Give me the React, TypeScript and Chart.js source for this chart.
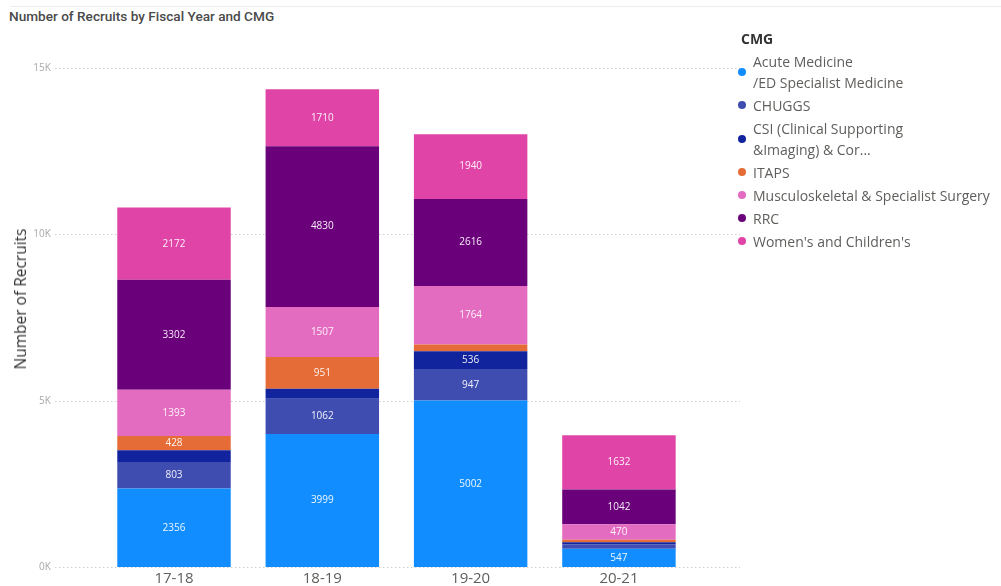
import React, { useEffect, useRef } from 'react';
import { Chart, registerables } from 'chart.js';
Chart.register(...registerables);

const categories = ['17-18', '18-19', '19-20', '20-21'];
const seriesNames = [
  'Acute Medicine /ED Specialist Medicine',
  'CHUGGS',
  'CSI (Clinical Supporting &Imaging) & Cor...',
  'ITAPS',
  'Musculoskeletal & Specialist Surgery',
  'RRC',
  "Women's and Children's",
];
const legendLines = [
  ['Acute Medicine', '/ED Specialist Medicine'],
  ['CHUGGS'],
  ['CSI (Clinical Supporting', '&Imaging) & Cor...'],
  ['ITAPS'],
  ['Musculoskeletal & Specialist Surgery'],
  ['RRC'],
  ["Women's and Children's"],
];
const acute = [2356, 3999, 5002, 547];
const chuggs = [803, 1062, 947, 140];
const csi = [350, 300, 536, 60];
const itaps = [428, 951, 200, 70];
const musc = [1393, 1507, 1764, 470];
const rrc = [3302, 4830, 2616, 1042];
const womens = [2172, 1710, 1940, 1632];
const seriesValues = [acute, chuggs, csi, itaps, musc, rrc, womens];
const colors = ['#118DFF', '#3F4CB0', '#12239E', '#E66C37', '#E36BC0', '#6B007B', '#E044A7'];
const yMax = 15000;
const yStep = 5000;
const labelMin = 400;

const FONT = "'Segoe UI', 'Open Sans', 'Noto Sans', sans-serif";

const gridPlugin = {
  id: 'extGrid',
  beforeDatasetsDraw(chart: any) {
    const ctx = chart.ctx;
    const y = chart.scales.y;
    ctx.save();
    ctx.setLineDash([1.5, 2.5]);
    ctx.strokeStyle = '#cfcfcf';
    ctx.lineWidth = 1;
    y.ticks.forEach((t: any) => {
      const py = Math.round(y.getPixelForValue(t.value)) + 0.5;
      ctx.beginPath();
      ctx.moveTo(55, py);
      ctx.lineTo(740, py);
      ctx.stroke();
    });
    ctx.restore();
  },
};

const labelPlugin = {
  id: 'segLabels',
  afterDatasetsDraw(chart: any) {
    const ctx = chart.ctx;
    ctx.save();
    ctx.font = `10px ${FONT}`;
    ctx.fillStyle = 'rgba(255,255,255,0.92)';
    ctx.textAlign = 'center';
    ctx.textBaseline = 'middle';
    chart.data.datasets.forEach((ds: any, i: number) => {
      const meta = chart.getDatasetMeta(i);
      meta.data.forEach((bar: any, j: number) => {
        const v = ds.data[j];
        if (v < labelMin) return;
        const p = bar.getProps(['x', 'y', 'base'], true);
        ctx.fillText(String(v), p.x, (p.y + p.base) / 2);
      });
    });
    ctx.restore();
  },
};

export default function App() {
  const ref = useRef<HTMLCanvasElement>(null);
  useEffect(() => {
    if (!ref.current) return;
    const chart = new Chart(ref.current, {
      type: 'bar',
      data: {
        labels: categories,
        datasets: seriesValues.map((vals, i) => ({
          label: seriesNames[i],
          data: vals,
          backgroundColor: colors[i],
          borderWidth: 0,
          categoryPercentage: 1,
          barPercentage: 0.765,
        })),
      },
      options: {
        animation: false,
        responsive: false,
        maintainAspectRatio: false,
        devicePixelRatio: 1,
        layout: { autoPadding: false, padding: { left: 0, right: 307.9, top: 68, bottom: 0 } },
        plugins: { legend: { display: false }, tooltip: { enabled: false }, title: { display: false } },
        scales: {
          x: {
            stacked: true,
            grid: { display: false, drawTicks: false },
            border: { display: false },
            ticks: { color: '#605E5C', font: { size: 15, family: FONT }, padding: 3 },
            afterFit: (s: any) => {
              s.height = 19;
              s.paddingLeft = 0;
              s.paddingRight = 0;
            },
          },
          y: {
            stacked: true,
            min: 0,
            max: yMax,
            grid: { display: false, drawTicks: false },
            border: { display: false },
            ticks: {
              stepSize: yStep,
              color: '#a8a8a8',
              font: { size: 10, family: FONT },
              padding: 49,
              callback: (v: any) => `${Number(v) / 1000}K`,
            },
            afterFit: (s: any) => {
              s.width = 99.85;
              s.paddingTop = 0;
              s.paddingBottom = 0;
            },
          },
        },
      },
      plugins: [gridPlugin, labelPlugin],
    });
    return () => chart.destroy();
  }, []);

  return (
    <div style={{ position: 'fixed', left: 0, top: 0, width: 1001, height: 586, background: '#fff', overflow: 'hidden' }}>
      <div style={{ position: 'absolute', left: 10, top: 6, right: 0, height: 1, background: '#ececec' }} />
      <div
        style={{
          position: 'absolute',
          left: 9,
          top: 8,
          font: `500 13.6px Roboto, ${FONT}`,
          color: '#4a4a4a',
          whiteSpace: 'nowrap',
        }}
      >
        Number of Recruits by Fiscal Year and CMG
      </div>
      <canvas ref={ref} width={1001} height={586} style={{ position: 'absolute', left: 0, top: 0, width: 1001, height: 586 }} />
      <div
        style={{
          position: 'absolute',
          left: 20,
          top: 299,
          transform: 'translate(-50%, -50%) rotate(-90deg)',
          font: `15.5px ${FONT}`,
          color: '#333',
          whiteSpace: 'nowrap',
        }}
      >
        Number of Recruits
      </div>
      <div style={{ position: 'absolute', left: 741, top: 29, font: `bold 14px ${FONT}`, color: '#333' }}>CMG</div>
      <div style={{ position: 'absolute', left: 737.5, top: 50.5, display: 'flex', flexDirection: 'column', gap: 2 }}>
        {legendLines.map((lines, i) => (
          <div key={i} style={{ display: 'flex', alignItems: 'center' }}>
            <span
              style={{
                width: 8,
                height: 8,
                borderRadius: 4,
                background: colors[i],
                marginRight: 7.5,
                flex: '0 0 auto',
              }}
            />
            <div style={{ font: `14px ${FONT}`, lineHeight: '21px', color: '#605E5C', whiteSpace: 'nowrap' }}>
              {lines.map((l, k) => (
                <div key={k}>{l}</div>
              ))}
            </div>
          </div>
        ))}
      </div>
    </div>
  );
}
